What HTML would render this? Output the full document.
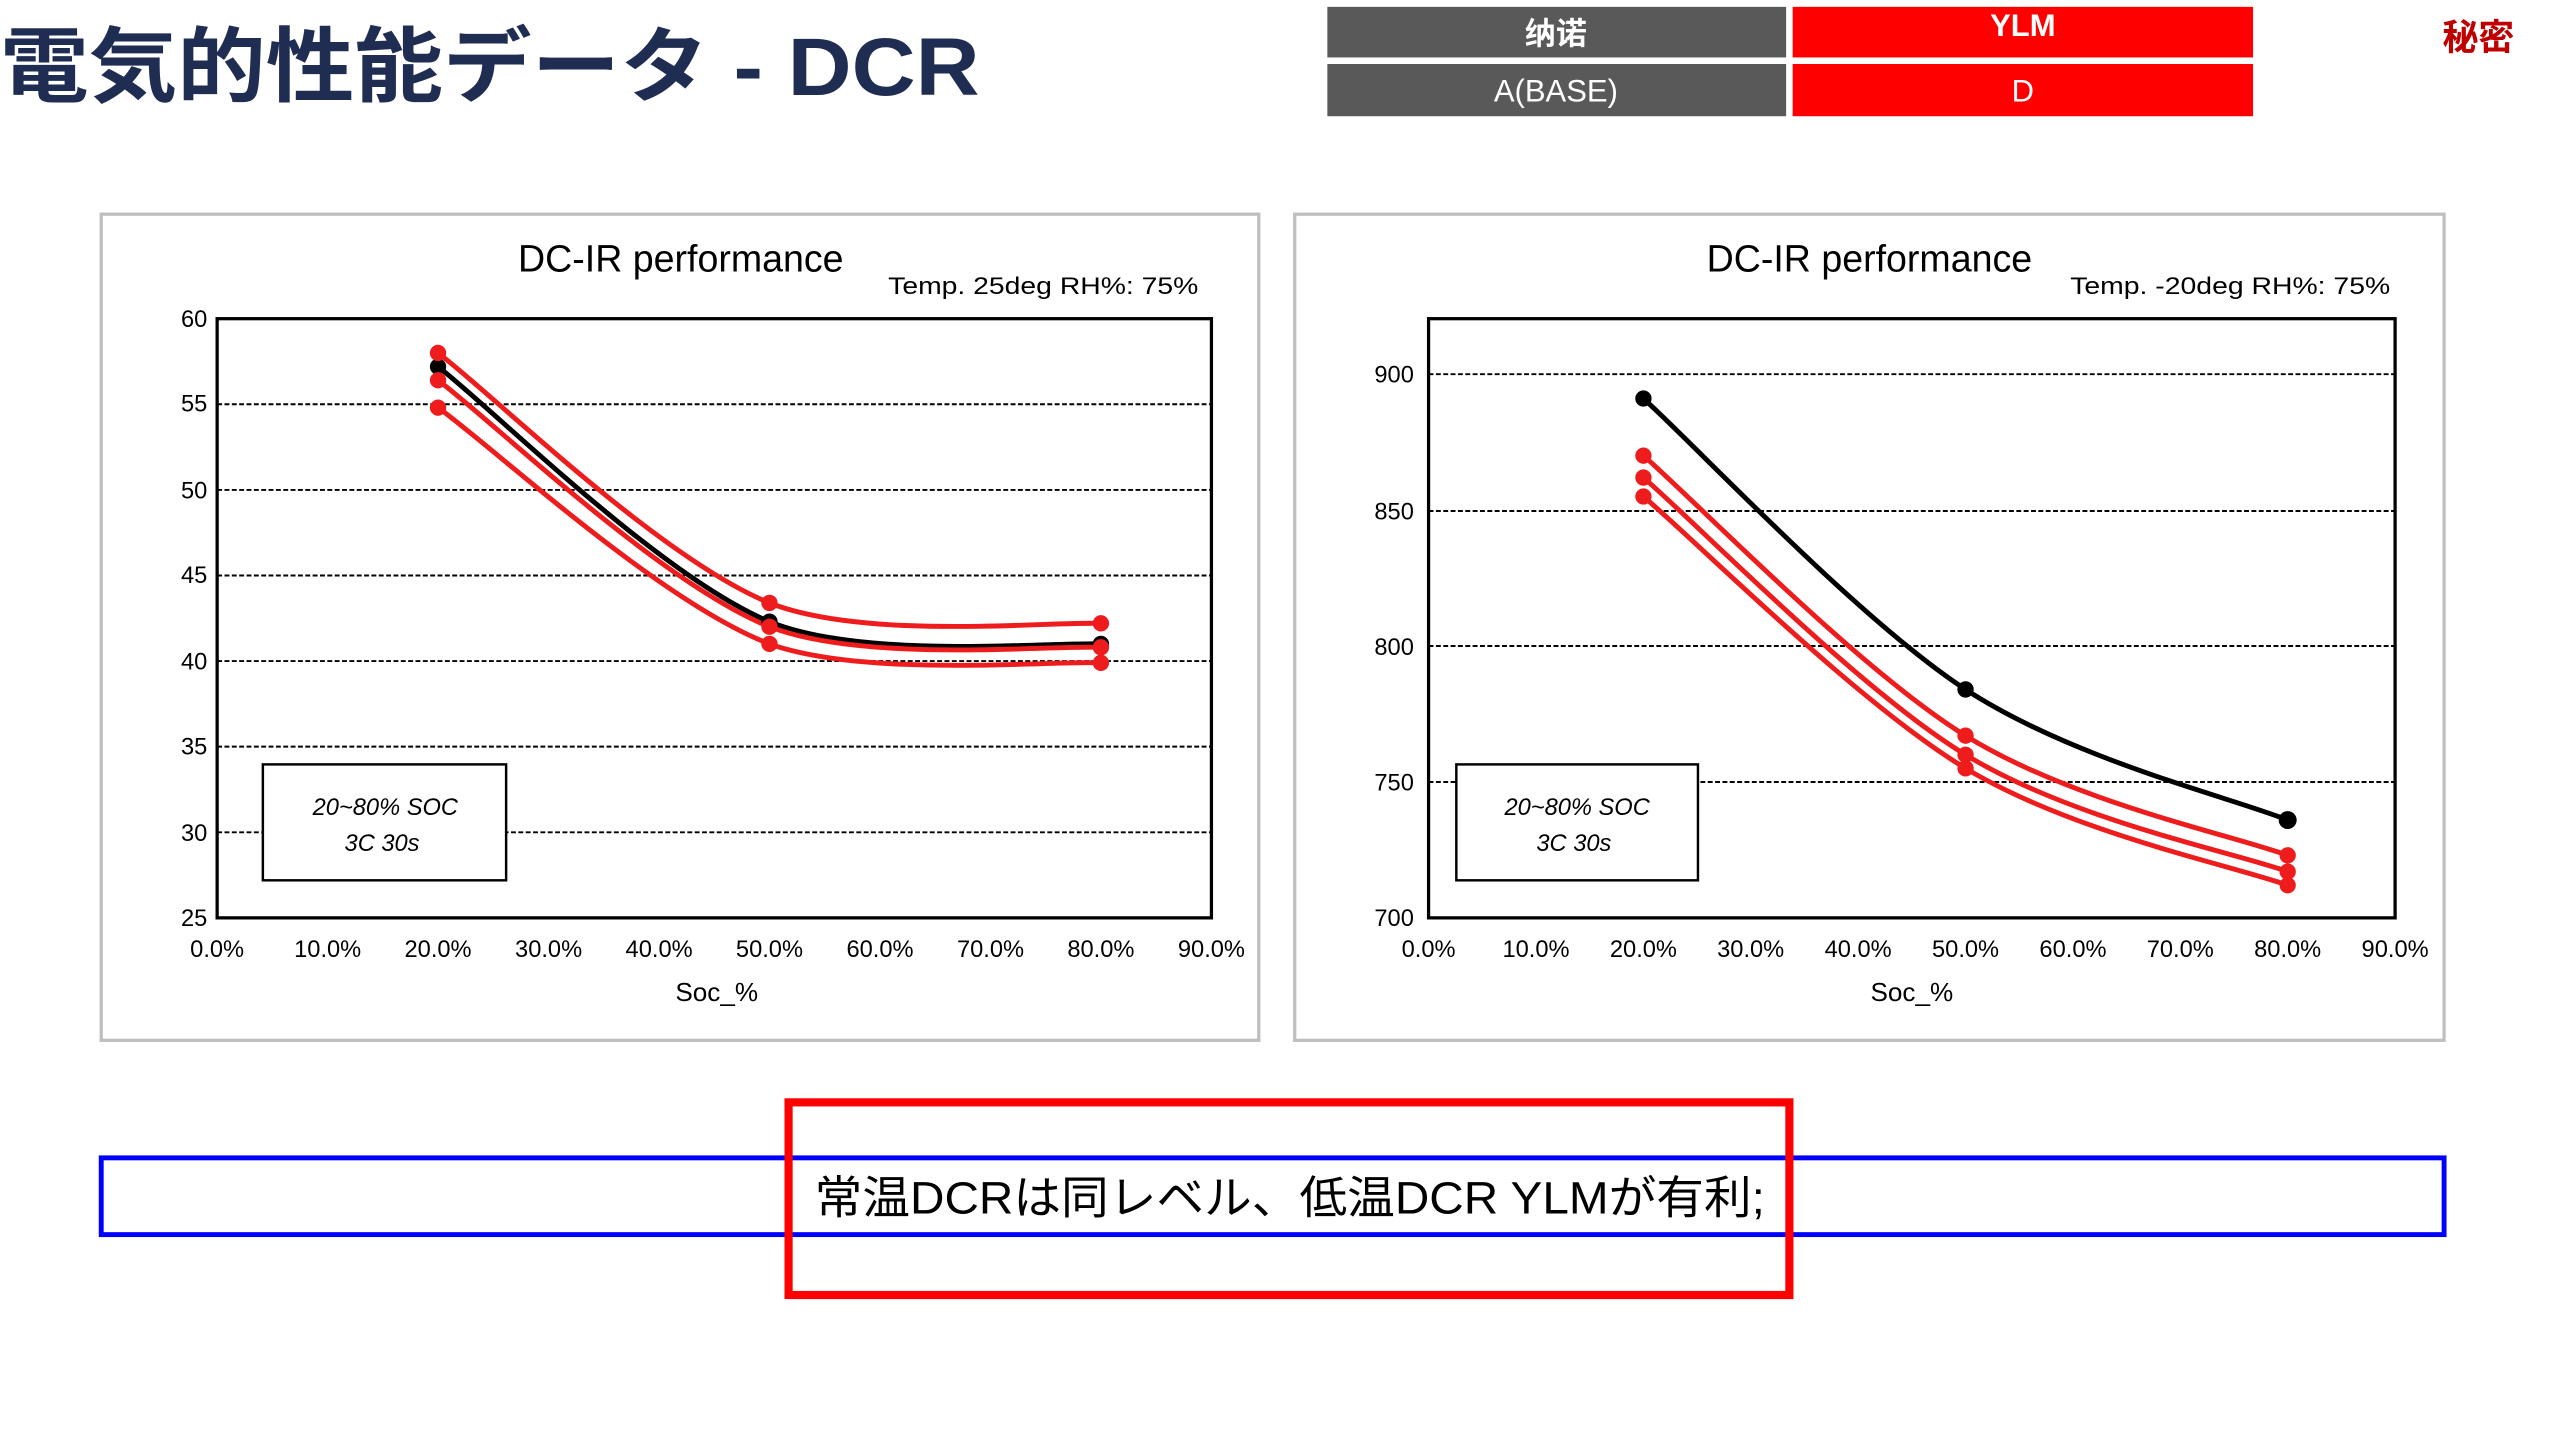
<!DOCTYPE html>
<html><head><meta charset="utf-8"><style>
html,body{margin:0;padding:0;background:#fff;}
svg{display:block;}
text{font-family:"Liberation Sans","Noto Sans CJK JP",sans-serif;}
</style></head><body>
<svg width="2560" height="1439" viewBox="0 0 1568 881" xmlns="http://www.w3.org/2000/svg">
<rect width="1568" height="881" fill="#fff"/>
<text x="0" y="58" font-size="50" font-weight="bold" fill="#1f2d52" textLength="600" lengthAdjust="spacingAndGlyphs">電気的性能データ - DCR</text>
<rect x="813" y="4" width="281" height="31" fill="#595959"/>
<rect x="1098" y="4" width="282" height="31" fill="#ff0000"/>
<rect x="813" y="39" width="281" height="32" fill="#595959"/>
<rect x="1098" y="39" width="282" height="32" fill="#ff0000"/>
<text x="953" y="27" font-size="19" font-weight="bold" fill="#fff" text-anchor="middle">纳诺</text>
<text x="1239" y="22" font-size="19" font-weight="bold" fill="#fff" text-anchor="middle">YLM</text>
<text x="953" y="62" font-size="19" fill="#fff" text-anchor="middle">A(BASE)</text>
<text x="1239" y="62" font-size="19" fill="#fff" text-anchor="middle">D</text>
<text x="1518" y="30" font-size="22" font-weight="bold" fill="#c00000" text-anchor="middle">秘密</text>

<!-- Left chart -->
<rect x="62" y="131" width="709" height="506" fill="#fff" stroke="#bfbfbf" stroke-width="2"/>
<text x="417" y="166" font-size="23" fill="#000" text-anchor="middle">DC-IR performance</text>
<text x="544" y="180" font-size="15" fill="#000" textLength="190" lengthAdjust="spacingAndGlyphs">Temp.  25deg  RH%:  75%</text>
<g stroke="#000" stroke-width="1.2" stroke-dasharray="3,1.5">
<line x1="133" y1="247.4" x2="742" y2="247.4"/><line x1="133" y1="299.9" x2="742" y2="299.9"/>
<line x1="133" y1="352.3" x2="742" y2="352.3"/><line x1="133" y1="404.7" x2="742" y2="404.7"/>
<line x1="133" y1="457.1" x2="742" y2="457.1"/><line x1="133" y1="509.6" x2="742" y2="509.6"/>
</g>
<rect x="133" y="195" width="609" height="367" fill="none" stroke="#000" stroke-width="2"/>
<g font-size="14.5" fill="#000" text-anchor="end">
<text x="127" y="200">60</text><text x="127" y="252">55</text><text x="127" y="305">50</text>
<text x="127" y="357">45</text><text x="127" y="410">40</text><text x="127" y="462">35</text>
<text x="127" y="515">30</text><text x="127" y="567">25</text></g>
<g font-size="14.5" fill="#000" text-anchor="middle">
<text x="133" y="586">0.0%</text><text x="200.7" y="586">10.0%</text><text x="268.3" y="586">20.0%</text>
<text x="336" y="586">30.0%</text><text x="403.7" y="586">40.0%</text><text x="471.3" y="586">50.0%</text>
<text x="539" y="586">60.0%</text><text x="606.7" y="586">70.0%</text><text x="674.3" y="586">80.0%</text>
<text x="742" y="586">90.0%</text>
<text x="439" y="613" font-size="16">Soc_%</text></g>
<rect x="161" y="468" width="149" height="71" fill="#fff" stroke="#000" stroke-width="1.5"/>
<text x="236" y="499" font-size="14.5" font-style="italic" text-anchor="middle">20~80% SOC</text>
<text x="234" y="521" font-size="14.5" font-style="italic" text-anchor="middle">3C 30s</text>
<g fill="none" stroke-width="3">
<path d="M268.3,224.4 C302.1,250.4 403.6,352.3 471.3,380.6 C530,404 640.5,393 674.3,394.2" stroke="#000"/>
<path d="M268.3,216 C302.1,241.5 403.6,341.5 471.3,369.1 C530,392 640.5,380.5 674.3,381.6" stroke="#ee1c1c"/>
<path d="M268.3,232.7 C302.1,257.9 403.6,356.4 471.3,383.7 C530,406 640.5,395 674.3,396.3" stroke="#ee1c1c"/>
<path d="M268.3,249.5 C302.1,273.6 403.6,368.2 471.3,394.2 C530,415 640.5,404.5 674.3,405.8" stroke="#ee1c1c"/>
</g>
<g fill="#000"><circle cx="268.3" cy="224.4" r="5"/><circle cx="471.3" cy="380.6" r="5"/><circle cx="674.3" cy="394.2" r="5"/></g>
<g fill="#ee1c1c">
<circle cx="268.3" cy="216" r="5"/><circle cx="471.3" cy="369.1" r="5"/><circle cx="674.3" cy="381.6" r="5"/>
<circle cx="268.3" cy="232.7" r="5"/><circle cx="471.3" cy="383.7" r="5"/><circle cx="674.3" cy="396.3" r="5"/>
<circle cx="268.3" cy="249.5" r="5"/><circle cx="471.3" cy="394.2" r="5"/><circle cx="674.3" cy="405.8" r="5"/>
</g>

<!-- Right chart -->
<rect x="793" y="131" width="704" height="506" fill="#fff" stroke="#bfbfbf" stroke-width="2"/>
<text x="1145" y="166" font-size="23" fill="#000" text-anchor="middle">DC-IR performance</text>
<text x="1268" y="180" font-size="15" fill="#000" textLength="196" lengthAdjust="spacingAndGlyphs">Temp.  -20deg  RH%:  75%</text>
<g stroke="#000" stroke-width="1.2" stroke-dasharray="3,1.5">
<line x1="875" y1="229" x2="1467" y2="229"/><line x1="875" y1="312.8" x2="1467" y2="312.8"/>
<line x1="875" y1="395.5" x2="1467" y2="395.5"/><line x1="875" y1="478.8" x2="1467" y2="478.8"/>
</g>
<rect x="875" y="195" width="592" height="367" fill="none" stroke="#000" stroke-width="2"/>
<g font-size="14.5" fill="#000" text-anchor="end">
<text x="866" y="234">900</text><text x="866" y="318">850</text><text x="866" y="401">800</text>
<text x="866" y="484">750</text><text x="866" y="567">700</text></g>
<g font-size="14.5" fill="#000" text-anchor="middle">
<text x="875" y="586">0.0%</text><text x="940.8" y="586">10.0%</text><text x="1006.6" y="586">20.0%</text>
<text x="1072.3" y="586">30.0%</text><text x="1138.1" y="586">40.0%</text><text x="1203.9" y="586">50.0%</text>
<text x="1269.7" y="586">60.0%</text><text x="1335.4" y="586">70.0%</text><text x="1401.2" y="586">80.0%</text>
<text x="1467" y="586">90.0%</text>
<text x="1171" y="613" font-size="16">Soc_%</text></g>
<rect x="892" y="468" width="148" height="71" fill="#fff" stroke="#000" stroke-width="1.5"/>
<text x="966" y="499" font-size="14.5" font-style="italic" text-anchor="middle">20~80% SOC</text>
<text x="964" y="521" font-size="14.5" font-style="italic" text-anchor="middle">3C 30s</text>
<g fill="none" stroke-width="3">
<path d="M1006.6,243.9 C1039.5,273.6 1138.1,379.1 1203.9,422.1 C1269.7,465.1 1368.3,488.8 1401.2,502.1" stroke="#000"/>
<path d="M1006.6,278.9 C1039.5,307.5 1138.1,409.6 1203.9,450.4 C1269.7,491.2 1368.3,511.5 1401.2,523.7" stroke="#ee1c1c"/>
<path d="M1006.6,292.3 C1039.5,320.6 1138.1,421.9 1203.9,462.1 C1269.7,502.3 1368.3,521.8 1401.2,533.7" stroke="#ee1c1c"/>
<path d="M1006.6,303.9 C1039.5,331.7 1138.1,430.7 1203.9,470.4 C1269.7,510.1 1368.3,530.1 1401.2,542" stroke="#ee1c1c"/>
</g>
<g fill="#000"><circle cx="1006.6" cy="243.9" r="5"/><circle cx="1203.9" cy="422.1" r="5"/><circle cx="1401.2" cy="502.1" r="5.5"/></g>
<g fill="#ee1c1c">
<circle cx="1006.6" cy="278.9" r="5"/><circle cx="1203.9" cy="450.4" r="5"/><circle cx="1401.2" cy="523.7" r="5"/>
<circle cx="1006.6" cy="292.3" r="5"/><circle cx="1203.9" cy="462.1" r="5"/><circle cx="1401.2" cy="533.7" r="5"/>
<circle cx="1006.6" cy="303.9" r="5"/><circle cx="1203.9" cy="470.4" r="5"/><circle cx="1401.2" cy="542" r="5"/>
</g>

<!-- Bottom -->
<rect x="62" y="709" width="1435" height="47" fill="none" stroke="#0000ff" stroke-width="3"/>
<rect x="483" y="675" width="613" height="118" fill="none" stroke="#ff0000" stroke-width="5"/>
<text x="790" y="743" font-size="28" fill="#000" text-anchor="middle" textLength="582" lengthAdjust="spacingAndGlyphs">常温DCRは同レベル、低温DCR YLMが有利;</text>
</svg>
</body></html>
